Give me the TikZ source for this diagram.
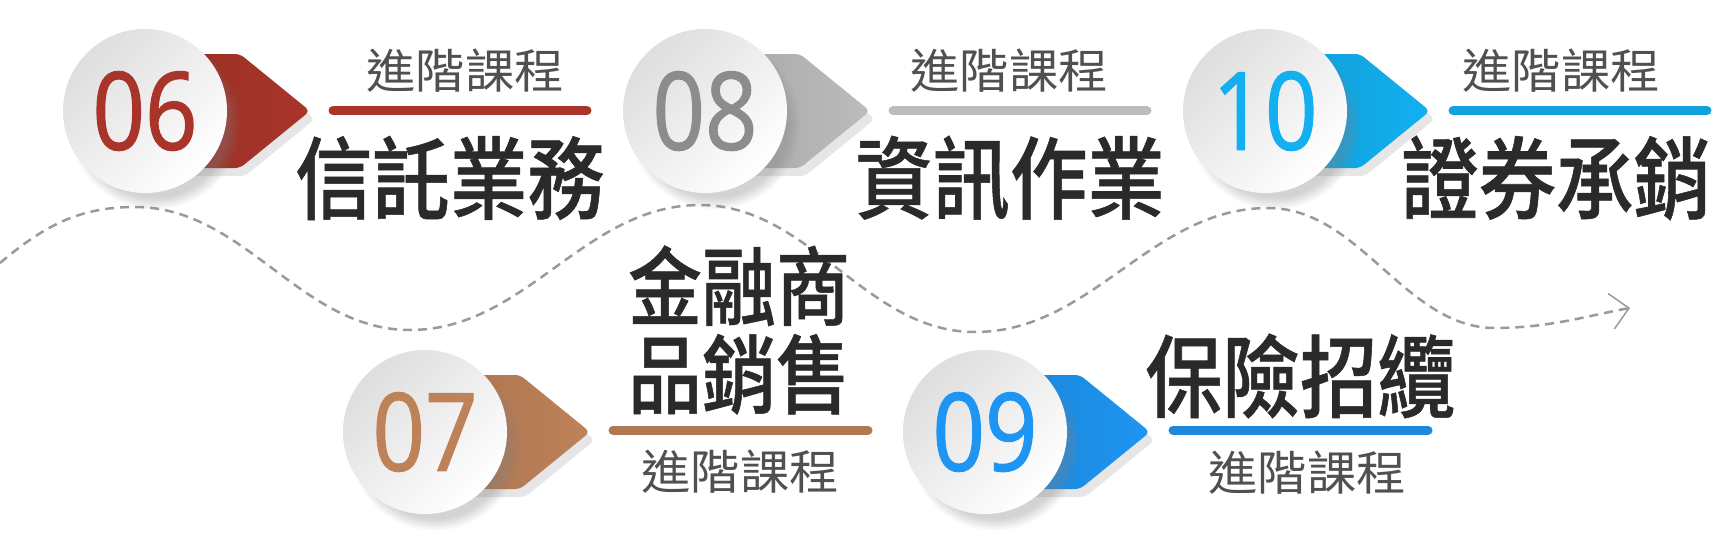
\documentclass[tikz,border=0pt]{standalone}
\usepackage{fontspec}
\usetikzlibrary{arrows.meta, shadows, positioning}
\newfontfamily\numfont[FakeStretch=0.85, FakeBold=1.2]{Open Sans}
\newfontfamily\cjkbig[FakeStretch=0.86, FakeBold=0.6]{Noto Sans CJK TC Medium}
\newfontfamily\cjksmall[FakeStretch=1.05]{Noto Sans CJK TC}
\definecolor{red06}{HTML}{A9352A}
\definecolor{brown07}{HTML}{BE8259}
\definecolor{gray08}{HTML}{8C8C8C}
\definecolor{bar08}{HTML}{BDBCBC}
\definecolor{blue09}{HTML}{1E95F2}
\definecolor{cyan10}{HTML}{12B0F0}
\definecolor{titlegray}{HTML}{2A2A2A}
\definecolor{subgray}{HTML}{505050}
\definecolor{wavegray}{HTML}{9A9A9A}
\tikzset{
    badge/.style={
        circle, minimum size=164pt, inner sep=0pt, top color=black!13, bottom color=white, shading angle=45,
        circular drop shadow={shadow xshift=9pt, shadow yshift=-12pt, shadow scale=1.05, opacity=0.35},
        font=\numfont\fontsize{108}{110}\selectfont
    },
    pointer/.pic={
        % Arrow body, half hidden by the badge
        \path[left color=#1!88!black, right color=#1, rounded corners=5pt,
            drop shadow={shadow xshift=5pt, shadow yshift=-8pt, opacity=0.2}]
            (0,-57) -- (95,-57) -- (165,0) -- (95,57) -- (0,57) -- cycle;
    },
    subtitle/.style={font=\cjksmall\fontsize{47}{50}\selectfont, text=subgray, inner sep=0pt},
    title/.style={font=\cjkbig\fontsize{90}{88}\selectfont, text=titlegray, inner sep=0pt, align=center},
    bar/.style={line width=9pt, line cap=round},
    wave/.style={line width=2.5pt, dash pattern=on 9pt off 6pt, draw=wavegray, -{Straight Barb[length=18pt, width=36pt, line width=1.5pt]}}
}
\begin{document}
\begin{tikzpicture}[x=1pt, y=-1pt]
    \useasboundingbox (0,0) rectangle (1730,555);

    % Wave
    \coordinate (wavestart) at (0,263);
    \coordinate (waveend) at (1630,308);
    \draw [wave] (wavestart) .. controls (45,225) and (80,207) .. (135,207)
        .. controls (245,207) and (300,330) .. (410,330)
        .. controls (526,330) and (584,205) .. (700,205)
        .. controls (810,205) and (865,332) .. (975,332)
        .. controls (1092,332) and (1151,208) .. (1268,208)
        .. controls (1360,208) and (1405,328) .. (1495,328)
        .. controls (1550,328) and (1590,315) .. (waveend);

    % Nodes
    \pic at (145,111) {pointer=red06};
    \node (c06) [badge, text=red06] at (145,111) {06};
    \node (s06) [subtitle] at (465,71) {進階課程};
    \node (t06) [title] at (450,178) {信託業務};
    \draw [bar, draw=red06] (333,110.5) -- (587,110.5);

    \pic at (425,432) {pointer=brown07};
    \node (c07) [badge, text=brown07] at (425,432) {07};
    \node (t07) [title, font=\cjkbig\fontsize{86}{88}\selectfont] at (739,330) {金融商\\品銷售};
    \node (s07) [subtitle] at (740,472) {進階課程};
    \draw [bar, draw=brown07!92!black] (613,430) -- (868,430);

    \pic at (705,111) {pointer=bar08};
    \node (c08) [badge, text=gray08] at (705,111) {08};
    \node (s08) [subtitle] at (1009,71) {進階課程};
    \node (t08) [title] at (1010,178) {資訊作業};
    \draw [bar, draw=bar08] (893,110.5) -- (1147,110.5);

    \pic at (985,432) {pointer=blue09};
    \node (c09) [badge, text=blue09] at (985,432) {09};
    \node (t09) [title] at (1300,376) {保險招纜};
    \node (s09) [subtitle] at (1307,473) {進階課程};
    \draw [bar, draw=blue09!92!black] (1173,430) -- (1428,430);

    \pic at (1265,111) {pointer=cyan10};
    \node (c10) [badge, text=cyan10] at (1265,111) {10};
    \node (s10) [subtitle] at (1561,71) {進階課程};
    \node (t10) [title] at (1556,178) {證券承銷};
    \draw [bar, draw=cyan10!92!black] (1453,110.5) -- (1707,110.5);
\end{tikzpicture}
\end{document}
